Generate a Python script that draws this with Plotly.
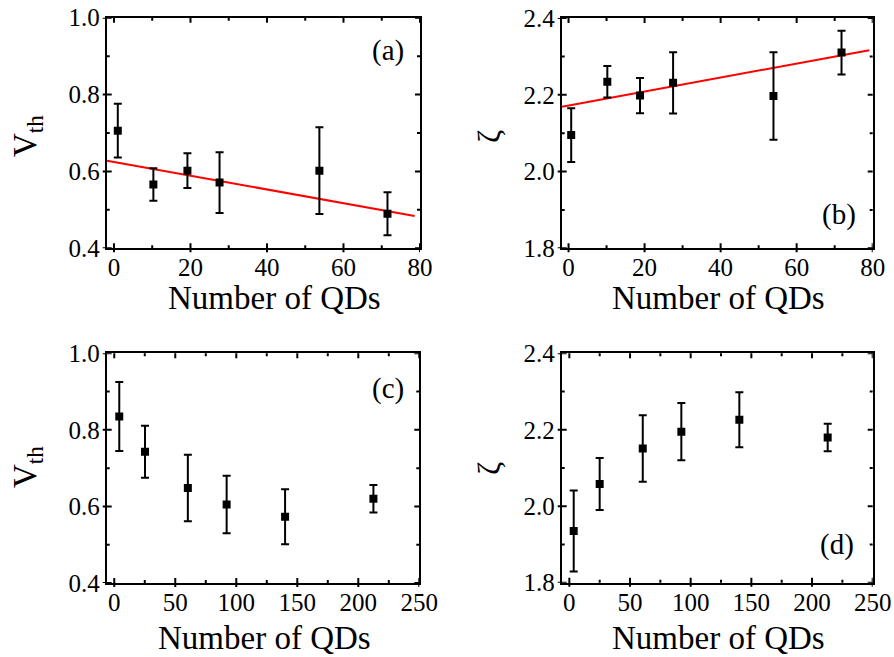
import math
import plotly.graph_objects as go

# ---------------- data ----------------
# Panel (a): V_th vs number of QDs (with linear fit)
a_x = [1.0, 10.3, 19.2, 27.6, 53.7, 71.5]
a_y = [0.706, 0.566, 0.602, 0.571, 0.602, 0.490]
a_err = [0.070, 0.042, 0.045, 0.079, 0.113, 0.056]
a_fit_x = [-1.8, 78.6]
a_fit_y = [0.628, 0.484]

# Panel (b): zeta vs number of QDs (with linear fit)
b_x = [0.7, 10.2, 18.8, 27.5, 53.9, 71.8]
b_y = [2.095, 2.234, 2.198, 2.231, 2.197, 2.310]
b_err = [0.070, 0.041, 0.046, 0.080, 0.114, 0.057]
b_fit_x = [-1.7, 79.1]
b_fit_y = [2.169, 2.316]

# Panel (c): V_th vs number of QDs
c_x = [4.1, 25.2, 60.3, 92.1, 140.0, 212.4]
c_y = [0.835, 0.743, 0.648, 0.605, 0.573, 0.620]
c_err = [0.090, 0.068, 0.087, 0.075, 0.072, 0.036]

# Panel (d): zeta vs number of QDs
d_x = [3.6, 25.0, 60.5, 92.3, 140.1, 212.9]
d_y = [1.935, 2.058, 2.151, 2.195, 2.226, 2.180]
d_err = [0.106, 0.068, 0.087, 0.075, 0.072, 0.036]

panel_labels = ["(a)", "(b)", "(c)", "(d)"]
x_title = "Number of QDs"
y_titles = ["V<sub>th</sub>", "ζ", "V<sub>th</sub>", "ζ"]

# ---------------- style ----------------
W, H = 894, 657
FONT = "Liberation Serif"
TICK_FS = 25
TITLE_FS = 33
LABEL_FS = 29

def px_x(p):
    return p / W

def px_y(p):
    return 1 - p / H

# plot-area boxes in pixels: left, top, right, bottom
boxes = [
    (106.7, 17.7, 420.0, 248.3),
    (561.7, 18.0, 872.7, 248.3),
    (106.7, 353.3, 419.3, 583.0),
    (561.7, 353.3, 872.7, 582.7),
]
x_ranges = [[-1.9, 80], [-1.8, 80], [-6.2, 250], [-6.3, 250]]
y_ranges = [[0.4, 1.0], [1.8, 2.4], [0.4, 1.0], [1.8, 2.4]]
x_dticks = [(20, 10), (20, 10), (50, 25), (50, 25)]
y_dticks = [(0.2, 0.1), (0.2, 0.1), (0.2, 0.1), (0.2, 0.1)]
label_pos = [(388, 50), (839, 214), (388, 388), (837, 544)]
xtitle_pos = [(274, 298), (718, 298), (264, 638), (718, 638)]
ytitle_pos = [(27, 136), (489, 137), (27, 467), (489, 469)]
ytitle_fs = [33, 32, 33, 32]

fig = go.Figure()

series = [(a_x, a_y, a_err), (b_x, b_y, b_err), (c_x, c_y, c_err), (d_x, d_y, d_err)]
fits = [(a_fit_x, a_fit_y), (b_fit_x, b_fit_y), None, None]

for i, (xs, ys, es) in enumerate(series):
    n = "" if i == 0 else str(i + 1)
    xr = "x" + n
    yr = "y" + n
    if fits[i] is not None:
        fx, fy = fits[i]
        fig.add_trace(go.Scatter(x=fx, y=fy, mode="lines", xaxis=xr, yaxis=yr,
                                 line=dict(color="#ff0000", width=2), showlegend=False,
                                 hoverinfo="skip"))
    fig.add_trace(go.Scatter(
        x=xs, y=ys, mode="markers", xaxis=xr, yaxis=yr, showlegend=False,
        marker=dict(symbol="square", size=8, color="black"),
        error_y=dict(type="data", array=es, visible=True, color="black",
                     thickness=2, width=4),
    ))

layout = dict(
    width=W, height=H,
    margin=dict(l=0, r=0, t=0, b=0),
    paper_bgcolor="white", plot_bgcolor="white",
    font=dict(family=FONT, color="black", size=TICK_FS),
    showlegend=False,
)


def tick_values(rng, major, minor):
    """Tick positions inside the axis range, flagged major / minor."""
    k0 = math.ceil(round(rng[0] / minor, 6))
    k1 = math.floor(round(rng[1] / minor, 6))
    ratio = int(round(major / minor))
    return [(round(k * minor, 6), k % ratio == 0) for k in range(k0, k1 + 1)]


TICK_LINE = dict(color="black", width=2)
shapes = []
annotations = []
for i in range(4):
    L, T, R, B = boxes[i]
    xd = [px_x(L), px_x(R)]
    yd = [px_y(B), px_y(T)]
    n = "" if i == 0 else str(i + 1)
    xref = "x" + n
    yref = "y" + n
    common = dict(
        showgrid=False, zeroline=False,
        showline=True, linecolor="black", linewidth=2, mirror=True,
        ticks="",
        tickfont=dict(family=FONT, size=TICK_FS, color="black"),
        automargin=False, fixedrange=True,
    )
    layout["xaxis" + n] = dict(domain=xd, anchor=yref, range=x_ranges[i],
                               tick0=0, dtick=x_dticks[i][0], ticklabelstandoff=-4, **common)
    layout["yaxis" + n] = dict(domain=yd, anchor=xref, range=y_ranges[i],
                               tick0=0, dtick=y_dticks[i][0], tickformat=".1f",
                               ticklabelstandoff=0, **common)

    # tick marks: major ticks poke out on bottom/left and in on all sides,
    # minor ticks point inwards on all sides
    for t, is_major in tick_values(x_ranges[i], *x_dticks[i]):
        inner = 5 if is_major else 3
        outer = -4 if is_major else 0
        shapes.append(dict(type="line", xref=xref, yref=yref + " domain",
                           x0=t, x1=t, ysizemode="pixel", yanchor=0,
                           y0=outer, y1=inner, line=TICK_LINE, layer="above"))
        shapes.append(dict(type="line", xref=xref, yref=yref + " domain",
                           x0=t, x1=t, ysizemode="pixel", yanchor=1,
                           y0=-inner, y1=0, line=TICK_LINE, layer="above"))
    for t, is_major in tick_values(y_ranges[i], *y_dticks[i]):
        inner = 5 if is_major else 3
        outer = -4 if is_major else 0
        shapes.append(dict(type="line", xref=xref + " domain", yref=yref,
                           y0=t, y1=t, xsizemode="pixel", xanchor=0,
                           x0=outer, x1=inner, line=TICK_LINE, layer="above"))
        shapes.append(dict(type="line", xref=xref + " domain", yref=yref,
                           y0=t, y1=t, xsizemode="pixel", xanchor=1,
                           x0=-inner, x1=0, line=TICK_LINE, layer="above"))

    lx, ly = label_pos[i]
    annotations.append(dict(
        text=panel_labels[i], xref="paper", yref="paper",
        x=px_x(lx), y=px_y(ly), xanchor="center", yanchor="middle",
        showarrow=False, font=dict(family=FONT, size=LABEL_FS, color="black"),
    ))
    tx, ty = xtitle_pos[i]
    annotations.append(dict(
        text=x_title, xref="paper", yref="paper",
        x=px_x(tx), y=px_y(ty), xanchor="center", yanchor="middle",
        showarrow=False, font=dict(family=FONT, size=TITLE_FS, color="black"),
    ))
    vx, vy = ytitle_pos[i]
    annotations.append(dict(
        text=y_titles[i], xref="paper", yref="paper", textangle=-90,
        x=px_x(vx), y=px_y(vy), xanchor="center", yanchor="middle",
        showarrow=False, font=dict(family=FONT, size=ytitle_fs[i], color="black"),
    ))

layout["annotations"] = annotations
layout["shapes"] = shapes
fig.update_layout(**layout)

fig.write_html("out.html")
